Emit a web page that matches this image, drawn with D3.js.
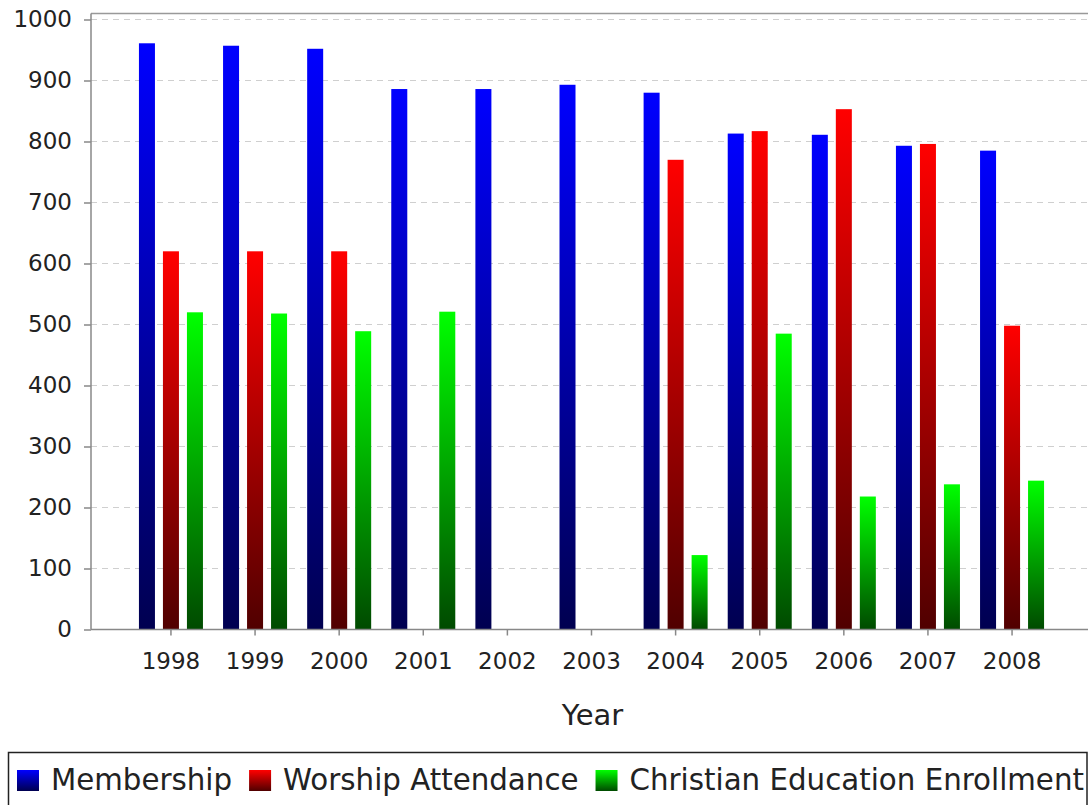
<!DOCTYPE html>
<html>
<head>
<meta charset="utf-8">
<script src="https://cdn.jsdelivr.net/npm/d3@7"></script>
<style>
  body { margin: 0; background: #fff; }
  svg { display: block; font-family: "DejaVu Sans", sans-serif; }
</style>
</head>
<body>
<div id="chart"></div>
<script>
// Datos
const years = ['1998', '1999', '2000', '2001', '2002', '2003', '2004', '2005', '2006', '2007', '2008'];
const seriesNames = ['Membership', 'Worship Attendance', 'Christian Education Enrollment'];
const membership = [961, 957, 952, 886, 886, 893, 880, 813, 811, 793, 785];
const worship = [620, 620, 620, 0, 0, 0, 770, 817, 853, 796, 498];
const education = [520, 518, 489, 521, 0, 0, 122, 485, 218, 238, 244];
const yTicks = [0, 100, 200, 300, 400, 500, 600, 700, 800, 900, 1000];

const colors = [
    { top: '#0000ff', bottom: '#000050' },
    { top: '#ff0000', bottom: '#500000' },
    { top: '#00ff00', bottom: '#004a00' }
];

const W = 1088, H = 805;
const plot = { left: 91, right: 1092, top: 13.5, bottom: 629.5 };

const svg = d3.select('#chart').append('svg')
    .attr('width', W)
    .attr('height', H);

const defs = svg.append('defs');
colors.forEach((c, i) => {
    const g = defs.append('linearGradient')
        .attr('id', 'grad' + i)
        .attr('x1', 0).attr('y1', 0).attr('x2', 0).attr('y2', 1);
    g.append('stop').attr('offset', '0%').attr('stop-color', c.top);
    g.append('stop').attr('offset', '100%').attr('stop-color', c.bottom);
});

const y = d3.scaleLinear().domain([0, 1000]).range([plot.bottom, 19.5]);
const x0 = d3.scaleBand().domain(years).range([plot.left, plot.right])
    .paddingInner(0.239).paddingOuter(0.57);
const x1 = d3.scaleBand().domain(seriesNames).range([0, x0.bandwidth()])
    .paddingInner(0.333).paddingOuter(0);

// Rejilla
svg.append('g')
    .selectAll('line')
    .data(yTicks)
    .join('line')
    .attr('x1', plot.left).attr('x2', plot.right)
    .attr('y1', d => y(d)).attr('y2', d => y(d))
    .attr('stroke', '#cfcfcf')
    .attr('stroke-width', 1)
    .attr('stroke-dasharray', '6,5');

// Borde superior
svg.append('line')
    .attr('x1', plot.left).attr('x2', plot.right)
    .attr('y1', plot.top).attr('y2', plot.top)
    .attr('stroke', '#999').attr('stroke-width', 1.5);

// Barras
const allSeries = [membership, worship, education];
const groups = svg.append('g')
    .selectAll('g')
    .data(years)
    .join('g')
    .attr('transform', d => `translate(${x0(d)},0)`);

groups.selectAll('rect')
    .data((d, i) => seriesNames.map((s, k) => ({ s, k, v: allSeries[k][i] })).filter(e => e.v > 0))
    .join('rect')
    .attr('x', e => x1(e.s))
    .attr('width', x1.bandwidth())
    .attr('y', e => y(e.v))
    .attr('height', e => y(0) - y(e.v))
    .attr('fill', e => `url(#grad${e.k})`);

// Ejes
const yAxis = svg.append('g')
    .attr('transform', `translate(${plot.left},0)`)
    .call(d3.axisLeft(y).tickValues(yTicks).tickFormat(d3.format('d')).tickSize(7).tickPadding(12));
const xAxis = svg.append('g')
    .attr('transform', `translate(0,${plot.bottom})`)
    .call(d3.axisBottom(x0).tickSize(6).tickPadding(17));

[yAxis, xAxis].forEach(a => {
    a.select('.domain').attr('stroke', '#888').attr('stroke-width', 1.5);
    a.selectAll('.tick line').attr('stroke', '#888').attr('stroke-width', 1.5);
    a.selectAll('.tick text')
        .attr('fill', '#222')
        .style('font-size', '23px')
        .style('font-family', '"DejaVu Sans", sans-serif');
});
xAxis.select('.domain').attr('d', `M${plot.left},0H${plot.right}`);
yAxis.select('.domain').attr('d', `M0,${plot.top}V${plot.bottom}`);

svg.append('text')
    .attr('x', (plot.left + plot.right) / 2 + 1)
    .attr('y', 725)
    .attr('text-anchor', 'middle')
    .attr('fill', '#222')
    .style('font-size', '29px')
    .text('Year');

// Leyenda
svg.append('rect')
    .attr('x', 8.5).attr('y', 752.5)
    .attr('width', 1078.5).attr('height', 70)
    .attr('fill', 'none')
    .attr('stroke', '#222')
    .attr('stroke-width', 1.5);

let lx = 17;
seriesNames.forEach((s, k) => {
    svg.append('rect')
        .attr('x', lx).attr('y', 770)
        .attr('width', 22).attr('height', 21)
        .attr('fill', `url(#grad${k})`);
    const t = svg.append('text')
        .attr('x', lx + 34).attr('y', 790)
        .attr('fill', '#222')
        .style('font-size', '29.3px')
        .text(s);
    lx += 34 + t.node().getComputedTextLength() + 17;
});
</script>
</body>
</html>
